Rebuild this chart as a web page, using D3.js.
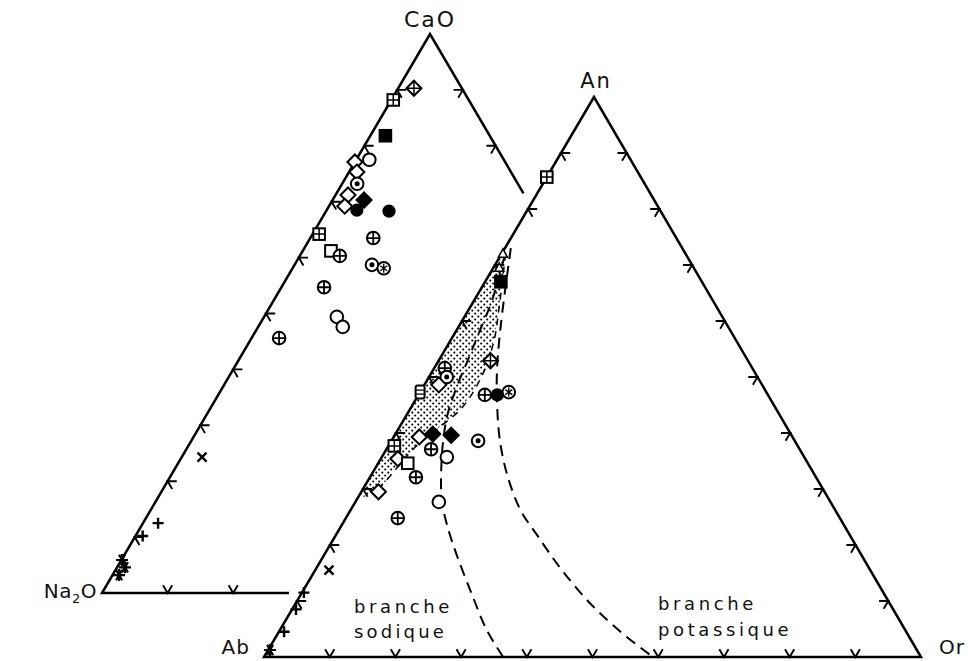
<!DOCTYPE html>
<html>
<head>
<meta charset="utf-8">
<script src="https://cdn.jsdelivr.net/npm/d3@7"></script>
<style>
  body { margin: 0; background: #fff; }
  text { font-family: "DejaVu Sans", sans-serif; fill: #111; }
</style>
</head>
<body>
<script>
// values are ternary percentages: [top corner %, right corner %, symbol]
// left triangle: CaO (top) - Na2O (left) - K2O (right, cut off)
// right triangle: An (top) - Ab (left) - Or (right)
var tickSteps = [10, 20, 30, 40, 50, 60, 70, 80, 90];
var cutK2O = 28.5;

var oxidePts = [
  [90.3, 2.4, "diaplus"], [88.2, 0.3, "sqplus"], [81.8, 2.3, "fsquare"],
  [77.1, 0.0, "diamond"], [77.5, 2.0, "circle"], [75.3, 1.2, "diamond"],
  [73.2, 2.3, "odot"], [71.2, 1.9, "diamond"], [69.2, 2.4, "diamond"],
  [70.3, 4.8, "fdiamond"], [68.5, 4.6, "dot"], [68.3, 9.6, "dot"],
  [64.2, 1.0, "sqplus"], [61.2, 4.3, "square"], [60.3, 6.1, "oplus"],
  [63.5, 9.6, "oplus"], [58.7, 11.8, "odot"], [58.1, 13.9, "hatch"],
  [54.7, 6.5, "oplus"], [49.4, 11.1, "circle"], [47.6, 12.9, "circle"],
  [45.6, 4.2, "oplus"], [24.3, 3.1, "cross"], [12.5, 2.3, "plus"],
  [10.2, 1.1, "plus"], [5.9, 0.1, "star"], [4.6, 1.2, "star"], [3.2, 1.0, "star"]
];

var feldsparPts = [
  [85.7, 0.0, "sqplus"], [72.0, 0.2, "tri"], [69.5, 0.9, "tri"],
  [67.0, 2.4, "fsquare"], [52.9, 7.9, "diaplus"], [46.8, 10.1, "oplus"],
  [47.3, 13.5, "hatch"], [46.8, 12.0, "dot"], [51.6, 1.6, "oplus"],
  [50.0, 2.7, "odot"], [48.6, 2.2, "diamond"], [47.3, 0.0, "capsule"],
  [39.8, 5.7, "fdiamond"], [39.6, 8.6, "fdiamond"], [39.3, 3.9, "diamond"],
  [37.7, 0.9, "sqplus"], [37.1, 6.8, "oplus"], [35.7, 9.9, "circle"],
  [38.6, 13.2, "odot"], [35.4, 2.6, "diamond"], [34.6, 4.5, "square"],
  [32.1, 7.0, "oplus"], [27.7, 12.7, "circle"], [29.5, 2.6, "diamond"],
  [24.8, 7.9, "oplus"], [15.5, 2.1, "cross"], [11.5, 0.3, "plus"],
  [8.5, 0.6, "plus"], [4.5, 0.8, "plus"], [1.25, 0.3, "star"]
];

// stippled field, bounded by the Ab-An side and this line
var stippleLine = [[73.0, 0.0], [72.0, 0.6], [62.0, 4.6], [56.6, 6.6], [50.7, 7.9],
  [44.6, 7.8], [40.5, 5.8], [37.5, 4.2], [33.4, 3.2], [29.8, 2.4], [28.0, 0.0]];
var sodiqueCurve = [[71.8, 0.6], [63.8, 2.7], [57.5, 3.7], [53.0, 4.4], [48.9, 5.0],
  [43.6, 6.1], [38.8, 7.8], [33.4, 10.2], [28.0, 13.0], [23.6, 16.0], [18.2, 20.2],
  [11.1, 26.1], [4.8, 31.5], [0, 36.4]];
var potassiqueCurve = [[73.0, 0.9], [65.5, 3.8], [57.5, 7.0], [51.3, 9.7], [45.9, 12.4],
  [38.8, 16.4], [32.5, 20.7], [26.3, 25.8], [21.8, 30.6], [15.9, 37.1], [9.6, 44.8],
  [4.3, 52.3], [0, 59.2]];

var width = 971, height = 661;

var svg = d3.select("body").append("svg")
    .attr("width", width)
    .attr("height", height);

var defs = svg.append("defs");
var pat = defs.append("pattern")
    .attr("id", "stipple")
    .attr("patternUnits", "userSpaceOnUse")
    .attr("width", 6).attr("height", 6);
pat.append("circle").attr("cx", 1.2).attr("cy", 1.5).attr("r", 1.05).attr("fill", "#000");
pat.append("circle").attr("cx", 4.3).attr("cy", 4.6).attr("r", 1.05).attr("fill", "#000");

// ternary -> pixel, built from linear scales
function makeTernary(apex, left, right){
    var y = d3.scaleLinear().domain([0, 100]).range([left[1], apex[1]]);
    var xr = d3.scaleLinear().domain([0, 100]).range([0, right[0] - left[0]]);
    var xt = d3.scaleLinear().domain([0, 100]).range([0, apex[0] - left[0]]);
    return function(t, r){ return [left[0] + xr(r) + xt(t), y(t)]; };
}

var oxide = makeTernary([430, 34], [102, 593], [758, 593]);
var felds = makeTernary([594, 97], [264, 657], [921, 657]);

var line = d3.line();
var k = 1.4; // tick arm, in %

function tick(proj, a, b, c){
    svg.append("path")
        .attr("d", line([proj(a[0], a[1]), proj(b[0], b[1]), proj(c[0], c[1])]))
        .attr("fill", "none").attr("stroke", "#000").attr("stroke-width", 1.9);
}

// stippled field
svg.append("path")
    .attr("d", line(stippleLine.map(function(d){ return felds(d[0], d[1]); })) + "Z")
    .attr("fill", "url(#stipple)")
    .attr("stroke", "none");

var curve = d3.line().curve(d3.curveCatmullRom);
[stippleLine.slice(1, -1), sodiqueCurve, potassiqueCurve].forEach(function(c, i){
    svg.append("path")
        .attr("d", curve(c.map(function(d){ return felds(d[0], d[1]); })))
        .attr("fill", "none")
        .attr("stroke", "#000")
        .attr("stroke-width", i == 0 ? 1.5 : 2)
        .attr("stroke-dasharray", i == 0 ? "7,6" : "11,7");
});

// left triangle, cut where it runs into the right one
svg.append("path")
    .attr("d", line([oxide(100 - cutK2O, cutK2O), oxide(100, 0), oxide(0, 0), oxide(0, cutK2O)]))
    .attr("fill", "none").attr("stroke", "#000").attr("stroke-width", 2.5)
    .attr("stroke-linejoin", "miter");

// right triangle
svg.append("path")
    .attr("d", line([felds(100, 0), felds(0, 0), felds(0, 100)]) + "Z")
    .attr("fill", "none").attr("stroke", "#000").attr("stroke-width", 2.5);

tickSteps.forEach(function(v){
    // left sides
    tick(oxide, [v, k], [v, 0], [v - k, k]);
    tick(felds, [v, k], [v, 0], [v - k, k]);
    // bases
    tick(felds, [k, v], [0, v], [k, v - k]);
    if (v < cutK2O) tick(oxide, [k, v], [0, v], [k, v - k]);
    // right sides
    tick(felds, [v, 100 - v - k], [v, 100 - v], [v - k, 100 - v]);
    if (v > 100 - cutK2O) tick(oxide, [v, 100 - v - k], [v, 100 - v], [v - k, 100 - v]);
});

function drawSymbol(g, s){
    var sw = 2;
    if (s == "circle" || s == "oplus" || s == "odot" || s == "hatch")
        g.append("circle").attr("r", 6.3).attr("fill", "#fff").attr("stroke", "#000").attr("stroke-width", sw);
    if (s == "oplus")
        g.append("path").attr("d", "M-6.3,0H6.3M0,-6.3V6.3").attr("stroke", "#000").attr("stroke-width", 1.8);
    if (s == "odot")
        g.append("circle").attr("r", 2.5).attr("fill", "#000");
    if (s == "hatch")
        g.append("path").attr("d", "M-3.5,-2.5L3.5,2.5M-3.5,2.5L3.5,-2.5M0,-4.5V4.5")
            .attr("stroke", "#000").attr("stroke-width", 1.4);
    if (s == "dot")
        g.append("circle").attr("r", 6.6).attr("fill", "#000");
    if (s == "square" || s == "fsquare" || s == "sqplus")
        g.append("rect").attr("x", -5.8).attr("y", -5.8).attr("width", 11.6).attr("height", 11.6)
            .attr("fill", s == "fsquare" ? "#000" : "#fff").attr("stroke", "#000").attr("stroke-width", sw);
    if (s == "sqplus")
        g.append("path").attr("d", "M-5.8,0H5.8M0,-5.8V5.8").attr("stroke", "#000").attr("stroke-width", 1.5);
    if (s == "diamond" || s == "fdiamond" || s == "diaplus")
        g.append("path").attr("d", "M0,-7.5L7.5,0L0,7.5L-7.5,0Z")
            .attr("fill", s == "fdiamond" ? "#000" : "#fff").attr("stroke", "#000").attr("stroke-width", sw);
    if (s == "diaplus")
        g.append("path").attr("d", "M0,-7.5V7.5M-7.5,0H7.5").attr("stroke", "#000").attr("stroke-width", 1.5);
    if (s == "capsule"){
        g.append("rect").attr("x", -4.5).attr("y", -6.5).attr("width", 9).attr("height", 13).attr("rx", 2)
            .attr("fill", "#fff").attr("stroke", "#000").attr("stroke-width", sw);
        g.append("path").attr("d", "M-4.5,-2H4.5M-4.5,2H4.5").attr("stroke", "#000").attr("stroke-width", 1.3);
    }
    if (s == "tri")
        g.append("path").attr("d", "M0,-5L4.5,3.5L-4.5,3.5Z")
            .attr("fill", "#fff").attr("stroke", "#000").attr("stroke-width", 1.5);
    if (s == "cross")
        g.append("path").attr("d", "M-4.5,-4.5L4.5,4.5M-4.5,4.5L4.5,-4.5").attr("stroke", "#000").attr("stroke-width", 2.4);
    if (s == "plus")
        g.append("path").attr("d", "M-5.5,0H5.5M0,-5.5V5.5").attr("stroke", "#000").attr("stroke-width", 2.4);
    if (s == "star")
        g.append("path").attr("d", "M-6,0H6M-3,-5.2L3,5.2M-3,5.2L3,-5.2M0,-6V6").attr("stroke", "#000").attr("stroke-width", 2.2);
}

function plotPoints(pts, proj){
    svg.append("g").selectAll("g")
        .data(pts)
        .enter()
        .append("g")
        .attr("transform", function(d){ var p = proj(d[0], d[1]); return "translate(" + p[0] + "," + p[1] + ")"; })
        .each(function(d){ drawSymbol(d3.select(this), d[2]); });
}
plotPoints(oxidePts, oxide);
plotPoints(feldsparPts, felds);

// labels
function label(txt, x, y, anchor, size, ls){
    return svg.append("text").attr("x", x).attr("y", y)
        .attr("text-anchor", anchor)
        .style("font-size", size + "px")
        .style("letter-spacing", ls + "px")
        .text(txt);
}
label("CaO", 430, 27, "middle", 22, 2);
label("An", 596, 88, "middle", 21, 2);
label("Ab", 250, 654, "end", 20, 1);
label("Or", 939, 654, "start", 20, 1);
var na = label("", 97, 598, "end", 20, 0.5);
na.append("tspan").text("Na");
na.append("tspan").attr("dy", 5).style("font-size", "13px").text("2");
na.append("tspan").attr("dy", -5).text("O");

label("branche", 354, 613, "start", 18, 3.6);
label("sodique", 354, 638, "start", 18, 3.2);
label("branche", 658, 610, "start", 18, 3.6);
label("potassique", 658, 636, "start", 18, 3.6);
</script>
</body>
</html>
